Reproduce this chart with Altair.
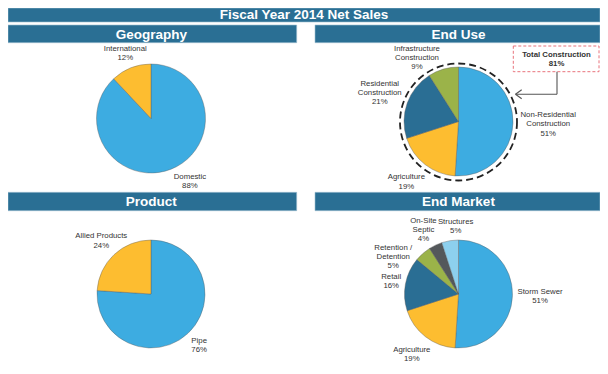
import math
import altair as alt
import pandas as pd

# ---------------- data ----------------
title_text = "Fiscal Year 2014 Net Sales"
panel_titles = ["Geography", "End Use", "Product", "End Market"]

geo_names = ["Domestic", "International"]
geo_values = [88, 12]

use_names = ["Non-Residential\nConstruction", "Agriculture",
             "Residential\nConstruction", "Infrastructure\nConstruction"]
use_values = [51, 19, 21, 9]

prod_names = ["Pipe", "Allied Products"]
prod_values = [76, 24]

mkt_names = ["Storm Sewer", "Agriculture", "Retail", "Retention /\nDetention",
             "On-Site\nSeptic", "Structures"]
mkt_values = [51, 19, 16, 5, 4, 5]

callout_title = "Total Construction"
construction_parts = ["Non-Residential\nConstruction", "Residential\nConstruction",
                      "Infrastructure\nConstruction"]

# ---------------- styles ----------------
palette = ["#3DACE1", "#FDBD30", "#2A6E94", "#9BB349", "#54585B", "#8DD0EE"]
HEADER = "#2A6F94"
FONT = "Liberation Sans"
TXT = "#333333"
LFS = 7.8     # label font size
LLH = 9.3     # label line height

W, H = 592, 358   # whole drawing (page has an 8px margin)

# approximate Arial/Liberation Sans advance widths (em)
CW = {c: 0.556 for c in "abdeghnopqu0123456789"}
CW.update({c: 0.5 for c in "cksvxyzJ"})
CW.update({c: 0.222 for c in "ijl"})
CW.update({"f": 0.278, "t": 0.278, "r": 0.333, " ": 0.278, "/": 0.278, "-": 0.333,
           "I": 0.278, "m": 0.833, "w": 0.722, "%": 0.889, "C": 0.722, "D": 0.722,
           "N": 0.722, "R": 0.722, "U": 0.722, "H": 0.722, "O": 0.778, "G": 0.778,
           "M": 0.833, "T": 0.611, "F": 0.611})


def line_w(s):
    return sum(CW.get(c, 0.667) for c in s) * LFS


def place_labels(names, values, cx, cy, clear, ymin, ymax):
    """Outside-end labels: along each slice's mid angle, pushed just clear of the
    pie, then spread apart / kept inside the panel and on their own side."""
    total = sum(values)
    texts = [f"{nm}\n{v}%" for nm, v in zip(names, values)]
    lines = [t.split("\n") for t in texts]
    n = len(values)
    mids, acc = [], 0.0
    for v in values:
        mids.append(2 * math.pi * (acc + v / 2) / total)
        acc += v
    ang = list(mids)
    leftside = [math.sin(a) < 0 for a in mids]
    lo_l, hi_l = math.pi + math.radians(2), 2 * math.pi - math.radians(2.4)
    lo_r, hi_r = math.radians(2), math.pi - math.radians(2)
    HW = [max(line_w(s) for s in ls) / 2 for ls in lines]
    HH = [(len(ls) - 1) / 2 * LLH + 3.6 for ls in lines]

    def dist_to(i, px, py):
        k = len(lines[i])
        m = 1e9
        for j, s in enumerate(lines[i]):
            by = py + (j - (k - 1) / 2) * LLH
            dx = max(abs(px - cx) - line_w(s) / 2, 0)
            dy = max(abs(by - cy) - 3.6, 0)
            m = min(m, math.hypot(dx, dy))
        return m

    def pos(i):
        sx, sy = math.sin(ang[i]), -math.cos(ang[i])
        lo, hi = 0.0, 250.0
        for _ in range(40):
            md = (lo + hi) / 2
            if dist_to(i, cx + md * sx, cy + md * sy) < clear:
                lo = md
            else:
                hi = md
        return cx + hi * sx, cy + hi * sy

    def clamp(i):
        if leftside[i]:
            ang[i] = min(max(ang[i], lo_l), hi_l)
        else:
            ang[i] = min(max(ang[i], lo_r), hi_r)

    step = math.radians(1)
    P = [pos(i) for i in range(n)]
    for _ in range(800):
        moved = False
        for i in range(n):
            if P[i][1] - HH[i] < ymin:
                ang[i] += -step if leftside[i] else step
                moved = True
            elif P[i][1] + HH[i] > ymax:
                ang[i] += step if leftside[i] else -step
                moved = True
        for i in range(n):
            for j in range(i + 1, n):
                if (abs(P[i][0] - P[j][0]) < HW[i] + HW[j] + 1 and
                        abs(P[i][1] - P[j][1]) < HH[i] + HH[j] + 1):
                    d = (ang[j] - ang[i] + math.pi) % (2 * math.pi) - math.pi
                    s = 1 if d >= 0 else -1
                    ang[i] -= s * step / 2
                    ang[j] += s * step / 2
                    moved = True
        for i in range(n):
            clamp(i)
        P = [pos(i) for i in range(n)]
        if not moved:
            break
    # text anchor = first line (Vega draws following lines below it)
    return pd.DataFrame({
        "label": texts,
        "lx": [p[0] for p in P],
        "ly": [p[1] - (len(ls) - 1) / 2 * LLH for p, ls in zip(P, lines)],
    })


xs = alt.Scale(domain=[0, W], range=[0, W], nice=False, zero=False)
ys = alt.Scale(domain=[0, H], range=[0, H], nice=False, zero=False)
one = pd.DataFrame({"_": [0]})


def rect(x0, x1, y0, y1, **kw):
    return alt.Chart(one).mark_rect(**kw).encode(
        x=alt.value(x0), x2=alt.value(x1), y=alt.value(y0), y2=alt.value(y1))


def text(x, y, s, **kw):
    return alt.Chart(one).mark_text(**kw).encode(
        x=alt.value(x), y=alt.value(y), text=alt.value(s))


def seg(x0, y0, x1, y1, **kw):
    return alt.Chart(one).mark_rule(**kw).encode(
        x=alt.value(x0), y=alt.value(y0), x2=alt.value(x1), y2=alt.value(y1))


def pie(names, values, cx, cy, r, clear, ymin, ymax):
    df = pd.DataFrame({"name": names, "value": values, "idx": list(range(len(values)))})
    arcs = alt.Chart(df).mark_arc(outerRadius=r, stroke="#5a5a5a", strokeWidth=0.4).encode(
        theta=alt.Theta("value:Q", stack=True),
        order=alt.Order("idx:Q", sort="ascending"),
        color=alt.Color("idx:O", scale=alt.Scale(domain=list(range(len(palette))), range=palette),
                        legend=None),
        x=alt.value(cx), y=alt.value(cy),
    )
    lab = place_labels(names, values, cx, cy, clear, ymin, ymax)
    labels = alt.Chart(lab).mark_text(font=FONT, fontSize=LFS, lineHeight=LLH, color=TXT,
                                      lineBreak="\n", align="center", baseline="middle").encode(
        x=alt.X("lx:Q", scale=xs, axis=None),
        y=alt.Y("ly:Q", scale=ys, axis=None),
        text="label:N",
    )
    return [arcs, labels]


layers = []
# title bar
layers.append(rect(0, W, 0, 14, fill=HEADER, stroke="#9fbfd2", strokeWidth=0.6))
layers.append(text(296, 7.2, title_text, font=FONT, fontSize=13.5, fontWeight="bold",
                   color="white", align="center", baseline="middle"))

# panel headers
hdr = [(0, 288.7, 17, 34.7), (307, W, 17, 34.7), (0, 288.7, 184.3, 202.7), (307, W, 184.3, 202.7)]
for (x0, x1, y0, y1), t in zip(hdr, panel_titles):
    cxh = 143.3 if x0 == 0 else 450.5
    layers.append(rect(x0, x1, y0, y1, fill=HEADER, stroke="#9fbfd2", strokeWidth=0.6))
    layers.append(text(cxh, (y0 + y1) / 2 + 0.9, t, font=FONT, fontSize=13.5, fontWeight="bold",
                       color="white", align="center", baseline="middle"))

# pies
layers += pie(geo_names, geo_values, 143, 110.5, 54.5, 59.5, 36.7, 182.3)
layers += pie(use_names, use_values, 450.5, 113.5, 54.5, 62, 36.7, 182.3)
layers += pie(prod_names, prod_values, 143, 286, 54, 59, 204.7, H - 0.5)
layers += pie(mkt_names, mkt_values, 450.5, 286, 54, 59, 204.7, H - 0.5)

# dashed ring around End Use (Vega circle symbol: radius = sqrt(size) / 2)
ring_r = 58.5
layers.append(alt.Chart(one).mark_point(shape="circle", size=(2 * ring_r) ** 2, filled=False,
                                        stroke="#222222", strokeWidth=1.8, strokeDash=[7, 4],
                                        opacity=1).encode(x=alt.value(450.5), y=alt.value(114)))

# callout box
total_construction = sum(v for nm, v in zip(use_names, use_values) if nm in construction_parts)
layers.append(rect(505.3, 591, 38, 63.7, fill="white", stroke="#E8737C", strokeWidth=1,
                   strokeDash=[3, 2]))
layers.append(text(548.5, 47, f"{callout_title}\n{total_construction}%", font=FONT, fontSize=LFS,
                   fontWeight="bold", lineHeight=LLH, lineBreak="\n", color=TXT,
                   align="center", baseline="middle"))
# connector with open arrowhead
lc = "#555555"
layers.append(seg(549, 63.7, 549, 86.3, color=lc, strokeWidth=1.1))
layers.append(seg(549, 86.3, 507.5, 86.3, color=lc, strokeWidth=1.1))
layers.append(seg(507.5, 86.3, 513.7, 81.8, color=lc, strokeWidth=1.1))
layers.append(seg(507.5, 86.3, 513.7, 90.8, color=lc, strokeWidth=1.1))

chart = alt.layer(*layers).properties(
    width=W, height=H, padding=0, autosize=alt.AutoSizeParams(type="none")
).resolve_scale(theta="independent").configure_view(stroke=None)

chart.save("out.html", embed_options={"renderer": "svg", "actions": False})
